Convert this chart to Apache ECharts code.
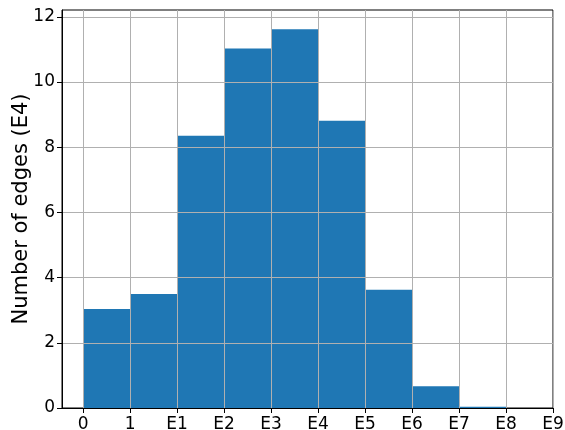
<!DOCTYPE html>
<html>
<head>
<meta charset="utf-8">
<script src="https://cdn.jsdelivr.net/npm/echarts@6/dist/echarts.min.js"></script>
<style>
html,body{margin:0;padding:0;background:#fff;}
#chart{width:565px;height:430px;}
</style>
</head>
<body>
<div id="chart"></div>
<script>
const binEdgeLabels = ['0', '1', 'E1', 'E2', 'E3', 'E4', 'E5', 'E6', 'E7', 'E8', 'E9'];
const binCounts = [3.04, 3.50, 8.35, 11.03, 11.62, 8.81, 3.63, 0.67, 0.04, 0];
const yTicks = [0, 2, 4, 6, 8, 10, 12];
const yAxisTitle = 'Number of edges (E4)';

const histData = binCounts.map((v, i) => [i, i + 1, v]);
const xTickValues = binEdgeLabels.map((_, i) => i);

const chart = echarts.init(document.getElementById('chart'), null, {renderer: 'canvas'});
const font = 'DejaVu Sans';
chart.setOption({
  animation: false,
  backgroundColor: '#ffffff',
  grid: {left: 62, right: 12, top: 10, bottom: 22, show: true, borderColor: '#000', borderWidth: 1,
         backgroundColor: 'transparent', containLabel: false, outerBoundsMode: 'none'},
  xAxis: {
    type: 'value', min: -0.45, max: binEdgeLabels.length - 1,
    minInterval: 1, maxInterval: 1, z: 10,
    axisLine: {show: true, onZero: false, lineStyle: {color: '#000', width: 1}},
    axisTick: {show: true, length: 5, lineStyle: {color: '#000'}, customValues: xTickValues},
    axisLabel: {
      color: '#000', fontFamily: font, fontSize: 17, margin: 8,
      customValues: xTickValues,
      formatter: v => binEdgeLabels[Math.round(v)] || ''
    },
    splitLine: {show: true, lineStyle: {color: '#b0b0b0', width: 1}}
  },
  yAxis: {
    type: 'value', min: 0, max: 12.21,
    minInterval: 2, maxInterval: 2, z: 10,
    name: yAxisTitle, nameLocation: 'middle', nameGap: 30, nameRotate: 90, nameMoveOverlap: false,
    nameTextStyle: {color: '#000', fontFamily: font, fontSize: 21},
    axisLine: {show: true, onZero: false, lineStyle: {color: '#000', width: 1}},
    axisTick: {show: true, length: 5, lineStyle: {color: '#000'}, customValues: yTicks},
    axisLabel: {
      color: '#000', fontFamily: font, fontSize: 17, margin: 7,
      customValues: yTicks,
      formatter: v => String(Math.round(v))
    },
    splitLine: {show: true, lineStyle: {color: '#b0b0b0', width: 1}}
  },
  series: [{
    type: 'custom',
    z: 2,
    data: histData,
    encode: {x: [0, 1], y: 2},
    renderItem: function (params, api) {
      const p0 = api.coord([api.value(0), api.value(2)]);
      const p1 = api.coord([api.value(1), 0]);
      return {
        type: 'rect',
        shape: {x: p0[0], y: p0[1], width: p1[0] - p0[0], height: p1[1] - p0[1]},
        style: {fill: '#1f77b4'}
      };
    }
  }]
});
</script>
</body>
</html>
